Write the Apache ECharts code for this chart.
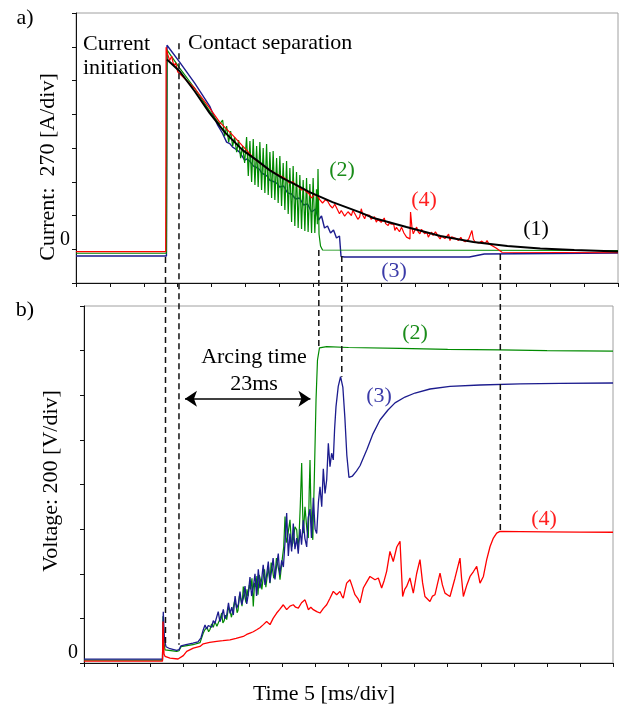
<!DOCTYPE html>
<html>
<head>
<meta charset="utf-8">
<script src="https://cdn.jsdelivr.net/npm/echarts@6/dist/echarts.min.js"></script>
<style>
  html, body { margin: 0; padding: 0; background: #fff; }
  #chart { width: 620px; height: 705px; }
</style>
</head>
<body>
<div id="chart"></div>
<script>
// Time base: 5 ms per division, 16 divisions
const timeMin = 0, timeMax = 80, timeStep = 5;
// Current: 270 A per division; Voltage: 200 V per division
const currentMin = -270, currentMax = 1890, currentStep = 270;
const voltageMin = 0, voltageMax = 1600, voltageStep = 200;

// a) current traces [t ms, I A]
const currentFit = [ // (1)
  [13.43,1518],[15.30,1424],[17.52,1264],[19.73,1089],[21.94,937],[24.59,793],[26.66,713],
  [28.57,633],[30.49,569],[32.55,513],[34.47,457],[37.86,377],[41.84,297],[43.91,250],
  [48.77,178],[53.79,106],[58.65,58],[63.67,26],[68.53,6],[73.55,-6],[80,-18]
];
const current2 = [
  [0,-32],[13.35,-32],[13.45,1593],[15.30,1449],[17.52,1288],[19.73,1105],[21.20,1001],
  [21.64,1033],[21.94,905],[22.23,985],[22.53,857],[22.82,945],[23.12,825],[23.41,897],
  [23.71,777],[24.00,873],[24.30,729],[24.59,825],[24.89,690],
  [25.18,897],[25.43,586],[25.67,865],[25.92,538],[26.16,881],[26.41,514],[26.66,825],
  [26.89,498],[27.14,857],[27.39,474],[27.63,809],[27.88,450],[28.13,841],[28.37,434],
  [28.62,777],[28.87,410],[29.10,785],[29.35,394],[29.61,729],[29.84,370],[30.09,745],
  [30.34,346],[30.58,690],[30.83,314],[31.08,706],[31.32,282],[31.57,650],[31.82,218],
  [32.05,666],[32.30,186],[32.55,618],[32.79,170],[33.04,594],[33.29,162],[33.53,554],
  [33.78,146],[34.03,570],[34.26,138],[34.52,522],[34.77,130],[35.00,570],[35.25,130],
  [35.50,480],[35.62,200],[35.72,642],[35.87,122],[36.09,26],[36.39,-6],[80,-10]
];
const current3 = [
  [0,-54],[13.35,-54],[13.43,1632],[15.30,1497],[17.52,1329],[19.73,1145],[20.91,993],
  [21.60,930],[22.23,857],[22.70,845],[23.12,817],[23.60,800],[24.15,777],[24.89,713],
  [25.25,722],[25.62,705],[26.21,665],[26.80,650],[27.10,638],[27.39,610],[27.98,594],
  [28.30,580],[28.57,554],[29.31,538],[29.70,525],[30.05,498],[30.64,506],[31.23,450],
  [31.82,442],[32.41,402],[33.00,410],[33.59,354],[34.18,362],[34.77,298],[35.36,322],
  [35.80,234],[36.24,266],[36.68,170],[37.12,186],[37.57,130],[38.01,154],[38.45,90],
  [38.89,106],[39.12,-58],[39.63,-62],[58.06,-62],[60.27,-38],[80,-30]
];
const current4 = [
  [0,-19],[13.24,-19],[13.30,1616],[13.53,1560],[13.83,1510],[14.12,1545],[14.42,1470],
  [14.71,1490],[15.01,1420],[17.52,1288],[19.73,1129],[21.20,1017],[23.12,913],[24.89,809],
  [26.36,721],[28.13,650],[29.31,610],[30.49,578],[31.00,560],[31.53,530],[32.00,540],
  [32.41,514],[32.90,500],[33.29,474],[33.70,480],[34.03,458],[34.40,445],[34.77,410],
  [35.20,440],[35.66,426],[36.00,395],[36.39,370],[36.80,395],[37.12,386],[37.50,350],
  [37.86,330],[38.20,360],[38.45,346],[38.89,284],[39.15,310],[39.40,300],[39.65,265],
  [39.88,271],[40.15,300],[40.40,295],[40.65,270],[40.87,311],[41.10,290],[41.30,280],
  [41.60,240],[41.86,257],[42.11,324],[42.35,270],[42.61,244],[42.80,275],[43.00,262],
  [43.35,271],[43.55,240],[43.80,235],[44.05,260],[44.33,217],[44.55,240],[44.80,245],
  [45.05,215],[45.32,230],[45.50,250],[45.70,205],[46.07,190],[46.31,217],[46.50,200],
  [46.70,185],[46.90,200],[47.06,150],[47.30,175],[47.50,170],[47.75,140],[48.05,177],
  [48.25,150],[48.40,130],[48.60,120],[48.79,97],[49.05,110],[49.29,83],[49.38,297],
  [49.60,170],[49.78,123],[50.00,150],[50.28,177],[50.50,140],[50.76,123],[51.00,160],
  [51.26,150],[51.45,125],[51.60,110],[51.80,135],[52.00,97],[52.25,120],[52.50,137],
  [52.70,110],[52.90,105],[53.05,140],[53.24,123],[53.50,100],[53.74,83],[53.95,105],
  [54.20,110],[54.45,85],[54.73,91],[55.00,120],[55.20,70],[55.45,100],[55.72,109],
  [56.10,85],[56.45,70],[56.80,95],[57.00,75],[57.21,83],[57.45,60],[57.69,56],
  [57.95,80],[58.20,70],[58.44,150],[58.65,80],[58.93,56],[59.20,70],[59.45,50],
  [59.67,42],[59.90,65],[60.10,60],[60.40,45],[60.67,70],[60.90,45],[61.16,30],
  [62.00,10],[62.88,-24],[80,-28]
];

// b) voltage traces [t ms, U V]
const voltage2 = [
  [0,13],[11.87,13],[11.95,210],[12.10,90],[12.25,59],[14.02,52],[14.37,55],[14.67,73],
  [16.48,82],[17.54,91],[18.04,134],[18.30,150],[18.60,160],[18.85,140],[19.05,150],
  [19.30,175],[19.55,160],[19.81,185],[20.10,165],[20.40,170],[20.60,200],[20.82,224],
  [21.00,180],[21.20,190],[21.40,215],[21.58,194],[21.85,250],[22.10,230],[22.30,205],
  [22.53,210],[22.75,275],[23.00,260],[23.15,225],[23.29,235],[23.50,300],[23.70,290],
  [23.90,255],[24.09,343],[24.30,300],[24.50,270],[24.65,330],[24.80,300],[25.00,350],
  [25.20,330],[25.40,380],[25.60,253],[25.80,360],[26.00,340],[26.15,390],[26.31,306],
  [26.50,395],[26.70,370],[26.90,330],[27.12,388],[27.30,420],[27.50,340],[27.67,380],
  [27.90,430],[28.13,358],[28.30,450],[28.50,420],[28.70,380],[28.88,390],[29.10,470],
  [29.30,440],[29.50,410],[29.64,373],[29.85,430],[30.00,470],[30.20,520],[30.40,656],
  [30.60,540],[30.77,560],[30.95,600],[31.15,642],[31.40,520],[31.61,540],[31.90,610],
  [32.17,597],[32.35,520],[32.51,560],[32.70,700],[32.92,896],[33.05,700],[33.16,582],
  [33.30,640],[33.42,700],[33.70,600],[33.92,560],[34.05,760],[34.18,910],[34.30,720],
  [34.43,620],[34.60,552],[34.86,866],[35.09,1179],[35.31,1358],[35.61,1412],[36.70,1418],
  [40.00,1414],[47.79,1410],[55.00,1406],[62.91,1403],[70.00,1400],[80,1398]
];
const voltage3 = [
  [0,17],[11.87,17],[11.99,230],[12.17,104],[12.40,73],[13.00,64],[14.02,57],[14.37,60],
  [14.67,77],[15.43,82],[16.48,89],[17.24,95],[17.69,113],[18.04,149],[18.30,170],
  [18.55,152],[18.80,168],[19.05,175],[19.30,160],[19.55,190],[19.80,178],[20.05,172],
  [20.30,230],[20.55,185],[20.80,205],[21.07,240],[21.30,198],[21.58,215],[21.85,270],
  [22.08,222],[22.35,250],[22.58,215],[22.85,300],[23.09,245],[23.35,265],[23.59,320],
  [23.85,262],[24.09,290],[24.35,345],[24.61,265],[24.85,310],[25.10,385],[25.35,300],
  [25.60,340],[25.86,400],[26.10,300],[26.36,420],[26.60,335],[26.87,375],[27.10,440],
  [27.37,350],[27.60,390],[27.87,455],[28.10,360],[28.39,420],[28.60,470],[28.88,375],
  [29.10,430],[29.38,490],[29.60,395],[29.90,460],[30.15,430],[30.40,540],[30.65,672],
  [30.90,480],[31.15,580],[31.40,500],[31.65,625],[31.90,510],[32.17,560],[32.40,490],
  [32.67,600],[32.90,530],[33.16,640],[33.40,560],[33.68,520],[33.90,650],[34.18,690],
  [34.40,560],[34.68,740],[34.95,600],[35.19,580],[35.45,720],[35.69,790],[35.95,700],
  [36.19,870],[36.45,760],[36.70,820],[36.95,985],[37.20,880],[37.45,940],[37.70,910],
  [37.90,1050],[38.11,1149],[38.45,1240],[38.80,1283],[39.15,1235],[39.45,1100],
  [39.75,930],[40.07,832],[40.60,838],[41.20,860],[41.74,884],[42.80,958],[43.70,1027],
  [44.76,1089],[45.97,1134],[47.03,1166],[48.54,1192],[50.06,1210],[52.33,1228],
  [55.35,1240],[59.89,1246],[65.94,1251],[71.99,1253],[80,1255]
];
const voltage4 = [
  [0,8],[11.87,8],[11.95,186],[12.10,40],[12.25,30],[13.00,22],[14.22,18],[15.02,33],
  [15.53,52],[16.53,67],[17.54,74],[18.04,86],[19.00,92],[20.07,97],[21.00,100],
  [22.08,104],[23.00,110],[24.09,119],[24.60,128],[25.10,134],[25.60,140],[26.11,149],
  [26.60,158],[27.12,172],[27.62,186],[28.13,172],[28.60,200],[29.14,224],[29.60,240],
  [30.14,261],[30.65,239],[31.15,255],[31.65,261],[32.00,250],[32.41,246],[32.90,270],
  [33.42,283],[33.70,260],[33.92,239],[34.30,250],[34.68,239],[35.20,230],[35.69,224],
  [36.20,245],[36.70,261],[37.20,290],[37.70,321],[38.21,306],[38.71,321],[39.00,300],
  [39.21,291],[39.50,330],[39.72,358],[40.22,373],[40.60,340],[40.98,306],[41.40,290],
  [41.74,269],[42.24,336],[42.70,360],[43.25,388],[44.01,373],[44.51,381],[45.01,336],
  [45.40,370],[45.77,411],[46.27,500],[46.77,455],[47.30,520],[47.79,545],[48.19,298],
  [48.50,330],[48.79,343],[49.29,381],[49.80,313],[50.30,400],[50.81,463],[51.20,360],
  [51.56,298],[52.32,276],[52.70,300],[53.08,306],[53.50,360],[53.84,403],[54.20,350],
  [54.59,313],[55.00,305],[55.35,298],[56.10,380],[56.86,470],[57.10,380],[57.37,298],
  [57.90,350],[58.38,388],[58.90,410],[59.39,433],[59.89,358],[60.40,388],[60.90,463],
  [61.41,522],[61.91,560],[62.41,582],[62.91,590],[66,589],[70,588],[75,587],[80,586]
];

// Event markers: current initiation, contact separation, arc extinctions
const eventTimes = [13.21, 15.20, 35.84, 39.23, 62.63];
const eventCurrentFrom = [-62, 1648, -6, -54, -38];
const eventVoltageTo = [74, 82, 1410, 1283, 589];

// Arcing-time arrow span in panel b
const arcArrow = { from: 15.27, to: 34.24, level: 1184 };

const GREEN = '#008a00', RED = '#ff0000', BLUE = '#1c1c8e', BLACK = '#000000';
const SERIF = '"Liberation Serif", "Times New Roman", serif';

const chart = echarts.init(document.getElementById('chart'), null, { renderer: 'canvas' });

function xAxisCfg(grid) {
  return {
    type: 'value', gridIndex: grid, min: timeMin, max: timeMax, interval: timeStep,
    axisLine: { show: true, onZero: false, lineStyle: { color: '#111', width: 1 } },
    axisTick: { show: true, inside: false, length: 4, lineStyle: { color: '#111' } },
    axisLabel: { show: false },
    splitLine: { show: false }
  };
}
function yAxisCfg(grid, min, max, step) {
  return {
    type: 'value', gridIndex: grid, min: min, max: max, interval: step,
    axisLine: { show: true, onZero: false, lineStyle: { color: '#111', width: 1 } },
    axisTick: { show: true, inside: false, length: 4, lineStyle: { color: '#111' } },
    axisLabel: {
      show: true, margin: 6, verticalAlign: 'bottom',
      formatter: v => (v === 0 ? '0' : ''),
      fontFamily: SERIF, fontSize: 20, color: '#000'
    },
    splitLine: { show: false }
  };
}
function trace(data, color, x, y, width) {
  return {
    type: 'line', data: data, xAxisIndex: x, yAxisIndex: y,
    showSymbol: false, symbol: 'none', silent: true, animation: false,
    lineStyle: { color: color, width: width || 1.2 }
  };
}
function label(text, x, y, color, align) {
  return {
    type: 'text', x: x, y: y, silent: true, z: 20,
    style: {
      text: text, font: '22px ' + SERIF, fill: color || '#000',
      align: align || 'center', verticalAlign: 'middle',
      textAlign: align || 'center', textVerticalAlign: 'middle'
    }
  };
}

const voltage2Series = trace(voltage2, GREEN, 1, 1);
voltage2Series.markLine = {
  silent: true, symbol: ['arrow', 'arrow'], symbolSize: 12, animation: false,
  label: { show: false },
  lineStyle: { color: '#000', width: 1.6, type: 'solid' },
  data: [[{ coord: [arcArrow.from, arcArrow.level] }, { coord: [arcArrow.to, arcArrow.level] }]]
};

const option = {
  animation: false,
  backgroundColor: '#fff',
  grid: [
    { left: 76, top: 13, width: 542, height: 270, show: true, borderColor: '#a0a0a0', borderWidth: 1 },
    { left: 84, top: 306, width: 529, height: 357, show: true, borderColor: '#a0a0a0', borderWidth: 1 }
  ],
  xAxis: [xAxisCfg(0), xAxisCfg(1)],
  yAxis: [
    yAxisCfg(0, currentMin, currentMax, currentStep),
    yAxisCfg(1, voltageMin, voltageMax, voltageStep)
  ],
  series: [
    trace(current3, BLUE, 0, 0, 1.4),
    trace(current2, GREEN, 0, 0, 1.2),
    trace(current4, RED, 0, 0, 1.2),
    trace(currentFit, BLACK, 0, 0, 2),
    voltage2Series,
    trace(voltage3, BLUE, 1, 1, 1.3),
    trace(voltage4, RED, 1, 1, 1.3)
  ],
  graphic: [
    label('a)', 25, 18),
    label('b)', 25, 310),
    label('Current', 83, 44, '#000', 'left'),
    label('initiation', 83, 68, '#000', 'left'),
    label('Contact separation', 188, 43, '#000', 'left'),
    label('(2)', 342, 170, '#1a8c1a'),
    label('(4)', 424, 200, '#ff2020'),
    label('(1)', 536, 229, '#000'),
    label('(3)', 394, 271, '#3b3ba8'),
    label('(2)', 415, 333, '#1a8c1a'),
    label('(3)', 379, 396, '#3b3ba8'),
    label('(4)', 544, 519, '#ff2020'),
    label('Arcing time', 254, 357),
    label('23ms', 254, 384),
    label('Time 5 [ms/div]', 324, 694),
    Object.assign(label('Current:  270 [A/div]', 0, 0), { x: 48, y: 167, rotation: Math.PI / 2 }),
    Object.assign(label('Voltage: 200 [V/div]', 0, 0), { x: 51, y: 481, rotation: Math.PI / 2 })
  ]
};

chart.setOption(option);

// Dashed event markers running from the current trace down into the voltage panel
const markers = eventTimes.map((t, i) => {
  const x = chart.convertToPixel({ xAxisIndex: 0 }, t);
  const y1 = chart.convertToPixel({ yAxisIndex: 0 }, eventCurrentFrom[i]);
  const y2 = chart.convertToPixel({ yAxisIndex: 1 }, eventVoltageTo[i]);
  return {
    type: 'line', id: 'event' + i, silent: true, z: 15,
    shape: { x1: x, y1: y1, x2: x, y2: y2 },
    style: { stroke: '#111', lineWidth: 1.5, lineDash: [6, 4] }
  };
});
chart.setOption({ graphic: option.graphic.concat(markers) });
</script>
</body>
</html>
